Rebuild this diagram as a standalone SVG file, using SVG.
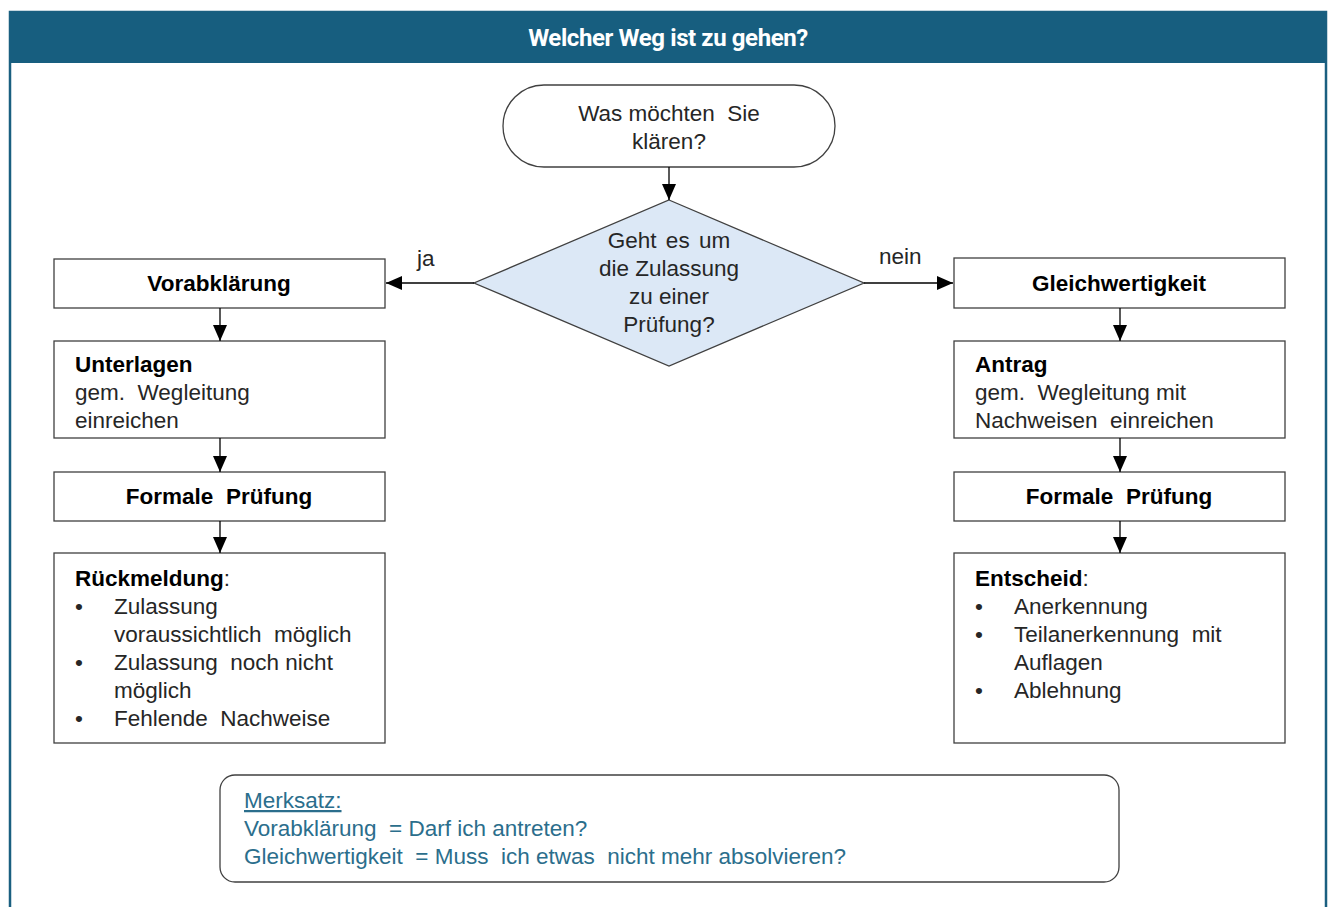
<svg xmlns="http://www.w3.org/2000/svg" width="1331" height="907" viewBox="0 0 1331 907">
<defs>
<marker id="arr" viewBox="0 0 16 14" refX="16" refY="7" markerWidth="16" markerHeight="14" markerUnits="userSpaceOnUse" orient="auto">
<path d="M0,0 L16,7 L0,14 Z" fill="#000"/>
</marker>
<style>
.box{fill:#fff;stroke:#404040;stroke-width:1.3}
.t{font-family:"Liberation Sans",Arial,sans-serif;font-size:22.5px;fill:#262626;white-space:pre}
.b{font-weight:bold;fill:#000}
.c{text-anchor:middle}
.m{font-family:"Liberation Sans",Arial,sans-serif;font-size:22.5px;fill:#2b6e8c;white-space:pre}
.con{stroke:#000;stroke-width:1.3;fill:none;marker-end:url(#arr)}
</style>
</defs>
<rect x="0" y="0" width="1331" height="907" fill="#fff"/>
<g id="frame">
<rect x="10" y="12" width="1316" height="910" fill="none" stroke="#1a5f80" stroke-width="2.5"/>
<rect x="10" y="12" width="1316" height="51" fill="#175e7f"/>
<text x="668" y="46" text-anchor="middle" font-family="Roboto,'Liberation Sans',sans-serif" font-weight="bold" font-size="24" fill="#fff" letter-spacing="-0.4">Welcher Weg ist zu gehen?</text>
</g>
<g id="start">
<rect x="503" y="85" width="332" height="82" rx="41" ry="41" class="box"/>
<text class="t c" x="669" y="121" xml:space="preserve">Was möchten  Sie</text>
<text class="t c" x="669" y="149">klären?</text>
</g>
<g id="decision">
<polygon points="669,200 864,283 669,366 474,283" fill="#dce8f6" stroke="#404040" stroke-width="1.3"/>
<text class="t c" x="669" y="248" word-spacing="3">Geht es um</text>
<text class="t c" x="669" y="276">die Zulassung</text>
<text class="t c" x="669" y="304">zu einer</text>
<text class="t c" x="669" y="332">Prüfung?</text>
</g>
<g id="vorab">
<rect x="54" y="259" width="331" height="49" class="box"/>
<text class="t b c" x="219" y="291">Vorabklärung</text>
</g>
<g id="unterlagen">
<rect x="54" y="341" width="331" height="97" class="box"/>
<text class="t b" x="75" y="372">Unterlagen</text>
<text class="t" x="75" y="400" xml:space="preserve">gem.  Wegleitung</text>
<text class="t" x="75" y="428">einreichen</text>
</g>
<g id="formal-left">
<rect x="54" y="472" width="331" height="49" class="box"/>
<text class="t b c" x="219" y="504" xml:space="preserve">Formale  Prüfung</text>
</g>
<g id="rueckmeldung">
<rect x="54" y="553" width="331" height="190" class="box"/>
<text class="t" x="75" y="586"><tspan class="b">Rückmeldung</tspan>:</text>
<text class="t" x="75" y="614">•</text>
<text class="t" x="114" y="614">Zulassung</text>
<text class="t" x="114" y="642" xml:space="preserve">voraussichtlich  möglich</text>
<text class="t" x="75" y="670">•</text>
<text class="t" x="114" y="670" xml:space="preserve">Zulassung  noch nicht</text>
<text class="t" x="114" y="698">möglich</text>
<text class="t" x="75" y="726">•</text>
<text class="t" x="114" y="726" xml:space="preserve">Fehlende  Nachweise</text>
</g>
<g id="gleich">
<rect x="954" y="258" width="331" height="50" class="box"/>
<text class="t b c" x="1119" y="291">Gleichwertigkeit</text>
</g>
<g id="antrag">
<rect x="954" y="341" width="331" height="97" class="box"/>
<text class="t b" x="975" y="372">Antrag</text>
<text class="t" x="975" y="400" xml:space="preserve">gem.  Wegleitung mit</text>
<text class="t" x="975" y="428" xml:space="preserve">Nachweisen  einreichen</text>
</g>
<g id="formal-right">
<rect x="954" y="472" width="331" height="49" class="box"/>
<text class="t b c" x="1119" y="504" xml:space="preserve">Formale  Prüfung</text>
</g>
<g id="entscheid">
<rect x="954" y="553" width="331" height="190" class="box"/>
<text class="t" x="975" y="586"><tspan class="b">Entscheid</tspan>:</text>
<text class="t" x="975" y="614">•</text>
<text class="t" x="1014" y="614">Anerkennung</text>
<text class="t" x="975" y="642">•</text>
<text class="t" x="1014" y="642" xml:space="preserve">Teilanerkennung  mit</text>
<text class="t" x="1014" y="670">Auflagen</text>
<text class="t" x="975" y="698">•</text>
<text class="t" x="1014" y="698">Ablehnung</text>
</g>
<g id="merksatz">
<rect x="220" y="775" width="899" height="107" rx="15" ry="15" class="box"/>
<text class="m" x="244" y="808" text-decoration="underline">Merksatz:</text>
<text class="m" x="244" y="836" xml:space="preserve">Vorabklärung  = Darf ich antreten?</text>
<text class="m" x="244" y="864" xml:space="preserve">Gleichwertigkeit  = Muss  ich etwas  nicht mehr absolvieren?</text>
</g>
<g id="connectors">
<line class="con" x1="669" y1="167" x2="669" y2="200"/>
<line class="con" x1="474" y1="283" x2="386" y2="283"/>
<line class="con" x1="864" y1="283" x2="953" y2="283"/>
<line class="con" x1="220" y1="308" x2="220" y2="341"/>
<line class="con" x1="220" y1="438" x2="220" y2="472"/>
<line class="con" x1="220" y1="521" x2="220" y2="553"/>
<line class="con" x1="1120" y1="308" x2="1120" y2="341"/>
<line class="con" x1="1120" y1="438" x2="1120" y2="472"/>
<line class="con" x1="1120" y1="521" x2="1120" y2="553"/>
<text class="t" x="417" y="266">ja</text>
<text class="t" x="879" y="264">nein</text>
</g>
</svg>
